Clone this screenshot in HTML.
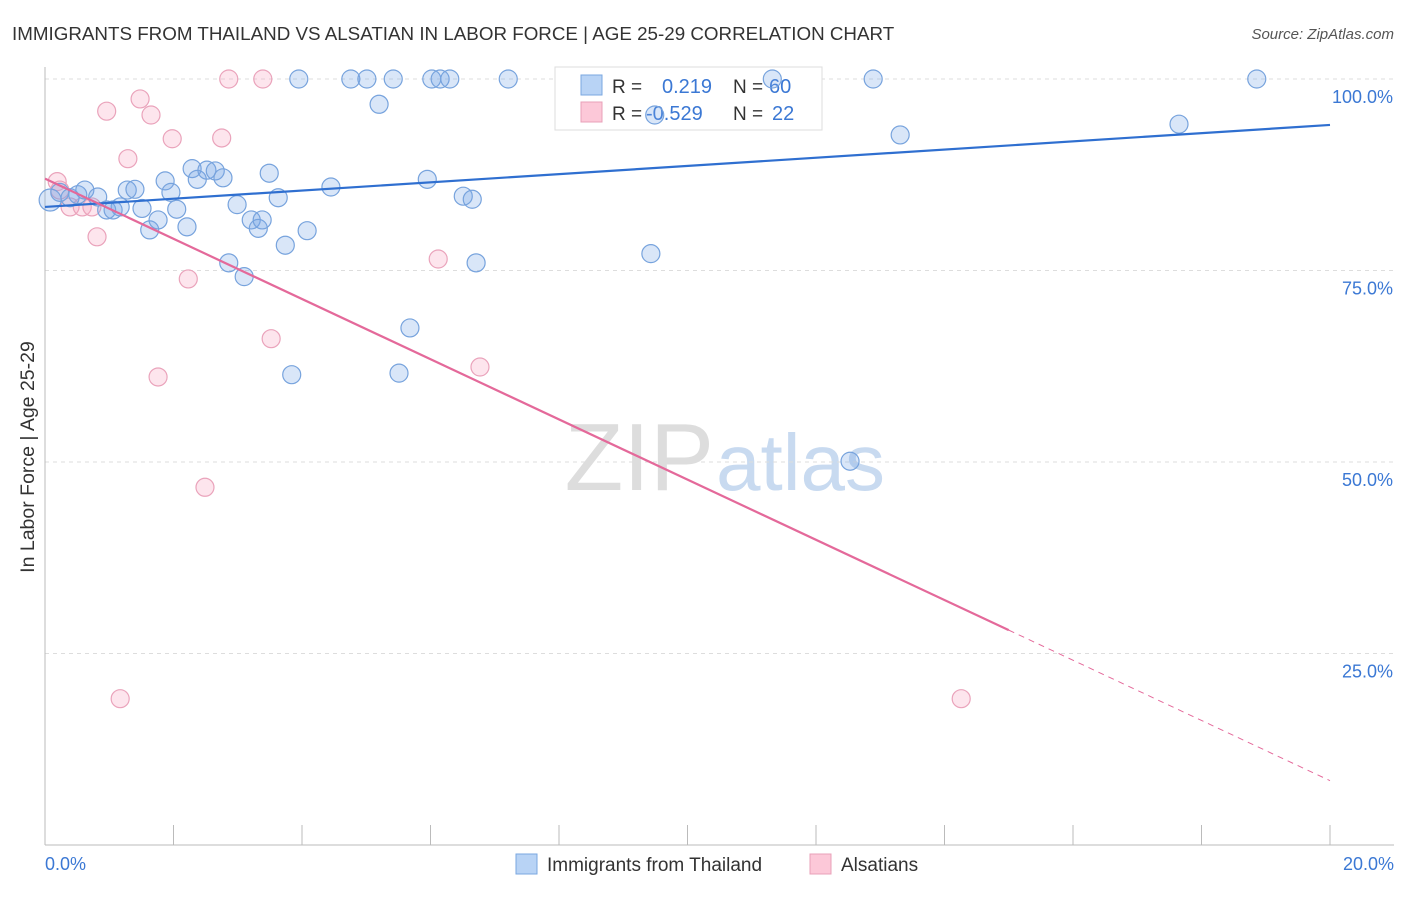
<!DOCTYPE html>
<html><head><meta charset="utf-8"><style>
body{margin:0;background:#fff;font-family:"Liberation Sans",sans-serif}
svg text{font-family:"Liberation Sans",sans-serif}
</style></head><body>
<svg id="c" width="1406" height="892">
<text x="12" y="40" font-size="18.8" fill="#333">IMMIGRANTS FROM THAILAND VS ALSATIAN IN LABOR FORCE | AGE 25-29 CORRELATION CHART</text>
<text x="1394" y="39" font-size="15" fill="#555" font-style="italic" text-anchor="end">Source: ZipAtlas.com</text>
<text x="714" y="490" font-size="96" fill="#ddd" text-anchor="end" font-family="Liberation Serif">ZIP</text>
<text x="716" y="490" font-size="80" fill="#c8daf0">atlas</text>
<text transform="translate(34,457) rotate(-90)" font-size="19.5" fill="#333" text-anchor="middle">In Labor Force | Age 25-29</text>
<g id="grid"></g>
<g id="legend">
<rect x="555" y="67" width="267" height="63" fill="#fff" stroke="#ddd"/>
<rect x="581" y="75" width="21" height="20" fill="#b8d3f5" stroke="#7aa7e0"/>
<rect x="581" y="102" width="21" height="20" fill="#fcc8d8" stroke="#e8a0b8"/>
<text x="612" y="93" font-size="19" fill="#333">R =</text>
<text x="662" y="93" font-size="20" fill="#3b78d4">0.219</text>
<text x="733" y="93" font-size="19" fill="#333">N =</text>
<text x="769" y="93" font-size="20" fill="#3b78d4">60</text>
<text x="612" y="120" font-size="19" fill="#333">R =</text>
<text x="646" y="120" font-size="20" fill="#3b78d4">-0.529</text>
<text x="733" y="120" font-size="19" fill="#333">N =</text>
<text x="772" y="120" font-size="20" fill="#3b78d4">22</text>
</g>
<g id="pts"></g>
<g>
<rect x="516" y="854" width="21" height="20" fill="#b8d3f5" stroke="#7aa7e0"/>
<text x="547" y="871" font-size="19" fill="#333">Immigrants from Thailand</text>
<rect x="810" y="854" width="21" height="20" fill="#fcc8d8" stroke="#e8a0b8"/>
<text x="841" y="871" font-size="19" fill="#333">Alsatians</text>
</g>
</svg>
<script>
const blueX=[0.08,0.23,0.39,0.51,0.62,0.82,0.96,1.06,1.17,1.28,1.40,1.51,1.63,1.76,1.87,1.96,2.05,2.21,2.29,2.37,2.52,2.65,2.77,2.86,2.99,3.10,3.21,3.32,3.38,3.49,3.63,3.74,3.84,3.95,4.08,4.45,4.76,5.01,5.20,5.42,5.51,5.68,5.95,6.02,6.15,6.30,6.51,6.65,6.71,7.21,9.43,9.49,11.32,12.53,12.89,13.31,17.65,18.86];
const blueY=[84.2,85.2,84.5,84.9,85.5,84.6,82.9,82.9,83.3,85.5,85.6,83.1,80.3,81.6,86.7,85.2,83.0,80.7,88.3,86.9,88.1,88.0,87.1,76.0,83.6,74.2,81.6,80.5,81.6,87.7,84.5,78.3,61.4,100,80.2,85.9,100,100,96.7,100,61.6,67.5,86.9,100,100,100,84.7,84.3,76.0,100,77.2,95.3,100,50.1,100,92.7,94.1,100];
const pinkX=[0.19,0.23,0.39,0.58,0.73,0.81,0.96,1.17,1.29,1.48,1.65,1.76,1.98,2.23,2.49,2.75,2.86,3.39,3.52,6.12,6.77,14.26];
const pinkY=[86.6,85.5,83.3,83.3,83.3,79.4,95.8,19.1,89.6,97.4,95.3,61.1,92.2,73.9,46.7,92.3,100,100,66.1,76.5,62.4,19.1];
const blueTrend=[83.3,94.0];
const pinkTrend=[87.0,8.4];
const yTicks=[100,75,50,25];
const xTickLabels=["0.0%","20.0%"];
const NS="http://www.w3.org/2000/svg";
const X=v=>45+v/20*1285, Y=v=>845-v*7.66;
function mk(t,a,p){const e=document.createElementNS(NS,t);for(const k in a)e.setAttribute(k,a[k]);p.appendChild(e);return e;}
const g=document.getElementById('grid'), svg=document.getElementById('c'), pts=document.getElementById('pts');
yTicks.forEach(v=>{
 const l=mk('line',{x1:45,x2:1394,y1:Y(v),y2:Y(v),stroke:'#ddd','stroke-dasharray':'4,4'},g);
 
 
 const t=mk('text',{x:1393,y:Y(v)+24,'font-size':18,fill:'#3b78d4','text-anchor':'end'},g);
 t.textContent=v.toFixed(1)+'%';
 
 
});
let ax=mk('line',{x1:45,x2:45,y1:67,y2:845,stroke:'#bbb'},g);


ax=mk('line',{x1:45,x2:1394,y1:845,y2:845,stroke:'#bbb'},g);


for(let i=0;i<=10;i++){const t=mk('line',{x1:X(i*2),x2:X(i*2),y1:825,y2:845,stroke:'#bbb'},g);
 
 }
[[0,'start',45],[1,'end',1394]].forEach(([i,a,x])=>{const t=mk('text',{x:x,y:870,'font-size':18,fill:'#3b78d4','text-anchor':a},g);t.textContent=xTickLabels[i];
 
 });
function dots(xs,ys,f,s,name){xs.forEach((x,i)=>{const c=mk('circle',{cx:X(x),cy:Y(ys[i]),r:i==0&&name=='blue-point'?11:9,fill:f,stroke:s,'stroke-width':1.2},pts);
 
 });}
dots(pinkX,pinkY,'rgba(248,170,195,0.3)','#eaa3bb','pink-point');
dots(blueX,blueY,'rgba(120,165,230,0.28)','#77a3dd','blue-point');
let l=mk('line',{x1:X(0),y1:Y(blueTrend[0]),x2:X(20),y2:Y(blueTrend[1]),stroke:'#2f6fd0','stroke-width':2.2},pts);


const py=x=>pinkTrend[0]+(pinkTrend[1]-pinkTrend[0])*x/20;
l=mk('line',{x1:X(0),y1:Y(py(0)),x2:X(15),y2:Y(py(15)),stroke:'#e4699a','stroke-width':2.2},pts);


l=mk('line',{x1:X(15),y1:Y(py(15)),x2:X(20),y2:Y(py(20)),stroke:'#e4699a','stroke-width':1,'stroke-dasharray':'6,5'},pts);


</script>
</body></html>
